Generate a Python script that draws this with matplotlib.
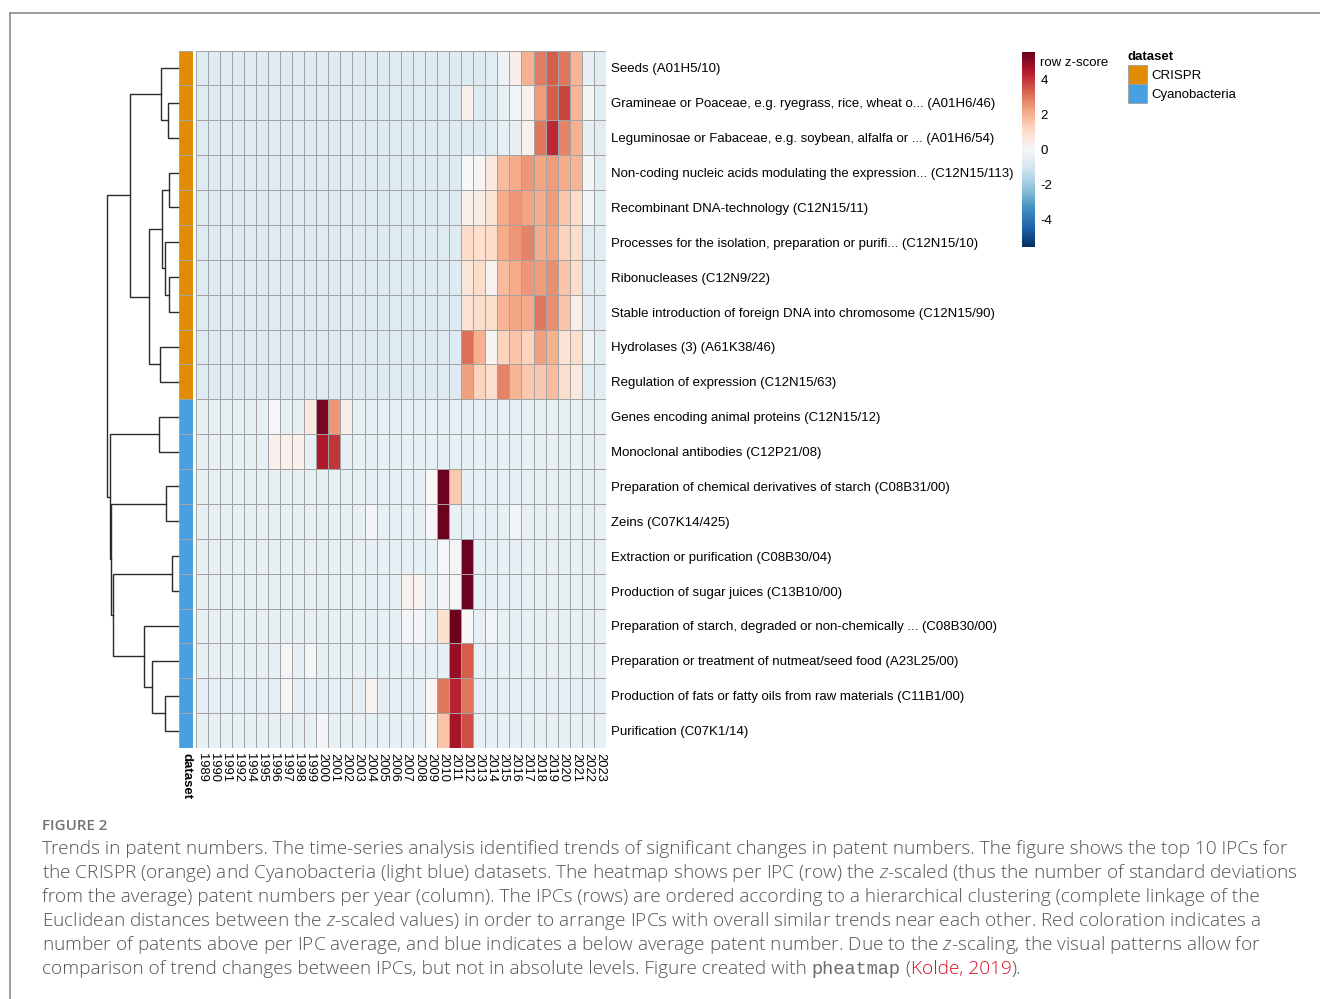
import matplotlib
matplotlib.use("Agg")
import matplotlib.pyplot as plt
import numpy as np
from matplotlib.colors import Normalize, ListedColormap
from matplotlib.lines import Line2D
from matplotlib.patches import Rectangle

plt.rcParams['font.family'] = ['Liberation Sans', 'DejaVu Sans']
plt.rcParams['mathtext.fontset'] = 'custom'
plt.rcParams['mathtext.rm'] = 'Open Sans:light'
plt.rcParams['mathtext.it'] = 'Open Sans:italic:light'

# ---------------- data ----------------
years = ["1989", "1990", "1991", "1992", "1994", "1995", "1996", "1997", "1998", "1999",
         "2000", "2001", "2002", "2003", "2004", "2005", "2006", "2007", "2008", "2009",
         "2010", "2011", "2012", "2013", "2014", "2015", "2016", "2017", "2018", "2019",
         "2020", "2021", "2022", "2023"]

row_labels = [
    "Seeds (A01H5/10)",
    "Gramineae or Poaceae, e.g. ryegrass, rice, wheat o... (A01H6/46)",
    "Leguminosae or Fabaceae, e.g. soybean, alfalfa or ... (A01H6/54)",
    "Non-coding nucleic acids modulating the expression... (C12N15/113)",
    "Recombinant DNA-technology (C12N15/11)",
    "Processes for the isolation, preparation or purifi... (C12N15/10)",
    "Ribonucleases (C12N9/22)",
    "Stable introduction of foreign DNA into chromosome (C12N15/90)",
    "Hydrolases (3) (A61K38/46)",
    "Regulation of expression (C12N15/63)",
    "Genes encoding animal proteins (C12N15/12)",
    "Monoclonal antibodies (C12P21/08)",
    "Preparation of chemical derivatives of starch (C08B31/00)",
    "Zeins (C07K14/425)",
    "Extraction or purification (C08B30/04)",
    "Production of sugar juices (C13B10/00)",
    "Preparation of starch, degraded or non-chemically ... (C08B30/00)",
    "Preparation or treatment of nutmeat/seed food (A23L25/00)",
    "Production of fats or fatty oils from raw materials (C11B1/00)",
    "Purification (C07K1/14)",
]

row_dataset = ["CRISPR", "CRISPR", "CRISPR", "CRISPR", "CRISPR",
               "CRISPR", "CRISPR", "CRISPR", "CRISPR", "CRISPR",
               "Cyanobacteria", "Cyanobacteria", "Cyanobacteria", "Cyanobacteria", "Cyanobacteria",
               "Cyanobacteria", "Cyanobacteria", "Cyanobacteria", "Cyanobacteria", "Cyanobacteria"]
dataset_names = ["CRISPR", "Cyanobacteria"]
dataset_colors = ["#E28C06", "#47A0E1"]

# row z-scores (rows in display order, columns = years)
z_crispr = [
    [-0.7, -0.7, -0.7, -0.7, -0.7, -0.7, -0.7, -0.7, -0.7, -0.7,
     -0.7, -0.7, -0.7, -0.7, -0.7, -0.7, -0.7, -0.7, -0.7, -0.7,
     -0.7, -0.7, -0.7, -0.7, -0.6, -0.3, 0.4, 2.0, 2.9, 3.4,
     3.0, 1.9, -0.4, -0.6],
    [-0.7, -0.7, -0.7, -0.7, -0.7, -0.7, -0.7, -0.7, -0.7, -0.7,
     -0.7, -0.7, -0.7, -0.7, -0.7, -0.7, -0.7, -0.7, -0.7, -0.7,
     -0.7, -0.7, 0.3, -0.7, -0.7, -0.4, -0.2, 0.3, 2.4, 3.4,
     3.8, 1.9, -0.1, -0.6],
    [-0.7, -0.7, -0.7, -0.7, -0.7, -0.7, -0.7, -0.7, -0.7, -0.7,
     -0.7, -0.7, -0.7, -0.7, -0.7, -0.7, -0.7, -0.7, -0.7, -0.7,
     -0.7, -0.7, -0.7, -0.7, -0.6, -0.5, -0.4, 0.3, 3.0, 4.2,
     2.8, 2.0, -0.4, -0.6],
    [-0.7, -0.7, -0.7, -0.7, -0.7, -0.7, -0.7, -0.7, -0.7, -0.7,
     -0.7, -0.7, -0.7, -0.7, -0.7, -0.7, -0.7, -0.7, -0.7, -0.7,
     -0.7, -0.7, 0.0, 0.1, 0.6, 1.8, 2.1, 2.5, 2.2, 2.4,
     2.1, 1.9, -0.1, -0.6],
    [-0.7, -0.7, -0.7, -0.7, -0.7, -0.7, -0.7, -0.7, -0.7, -0.7,
     -0.7, -0.7, -0.7, -0.7, -0.7, -0.7, -0.7, -0.7, -0.7, -0.7,
     -0.7, -0.7, 0.3, 0.4, 0.8, 2.1, 2.5, 2.2, 2.1, 2.4,
     1.5, 1.1, -0.2, -0.6],
    [-0.7, -0.7, -0.7, -0.7, -0.7, -0.7, -0.7, -0.7, -0.7, -0.7,
     -0.7, -0.7, -0.7, -0.7, -0.7, -0.7, -0.7, -0.7, -0.7, -0.7,
     -0.7, -0.7, 1.1, 0.9, 1.1, 2.1, 2.5, 2.8, 2.1, 2.2,
     1.3, 1.0, -0.6, -0.6],
    [-0.7, -0.7, -0.7, -0.7, -0.7, -0.7, -0.7, -0.7, -0.7, -0.7,
     -0.7, -0.7, -0.7, -0.7, -0.7, -0.7, -0.7, -0.7, -0.7, -0.7,
     -0.7, -0.7, 0.7, 1.0, 0.2, 1.8, 2.1, 2.5, 2.4, 2.6,
     1.6, 1.0, -0.6, -0.6],
    [-0.7, -0.7, -0.7, -0.7, -0.7, -0.7, -0.7, -0.7, -0.7, -0.7,
     -0.7, -0.7, -0.7, -0.7, -0.7, -0.7, -0.7, -0.7, -0.7, -0.7,
     -0.7, -0.7, 0.8, 1.0, 1.0, 1.9, 2.2, 2.1, 3.0, 2.6,
     1.6, 0.4, -0.6, -0.6],
    [-0.7, -0.7, -0.7, -0.7, -0.7, -0.7, -0.7, -0.7, -0.7, -0.7,
     -0.7, -0.7, -0.7, -0.7, -0.7, -0.7, -0.7, -0.7, -0.7, -0.7,
     -0.7, -0.7, 3.1, 2.0, 0.1, 1.3, 1.6, 1.3, 2.3, 2.0,
     0.8, 1.0, -0.3, -0.6],
    [-0.7, -0.7, -0.7, -0.7, -0.7, -0.7, -0.7, -0.7, -0.7, -0.7,
     -0.7, -0.7, -0.7, -0.7, -0.7, -0.7, -0.7, -0.7, -0.7, -0.7,
     -0.7, -0.7, 2.3, 1.3, 1.0, 2.8, 1.9, 1.5, 1.5, 1.8,
     1.0, 0.6, -0.6, -0.6],
]

z_cyano = [
    [-0.45, -0.45, -0.45, -0.45, -0.45, -0.45, -0.05, -0.45, -0.45, 0.5,
     5.3, 2.5, 0.4, -0.45, -0.45, -0.45, -0.45, -0.45, -0.45, -0.45,
     -0.45, -0.45, -0.45, -0.45, -0.45, -0.45, -0.45, -0.45, -0.45, -0.45,
     -0.45, -0.45, -0.45, -0.45],
    [-0.45, -0.45, -0.45, -0.45, -0.45, -0.45, 0.3, 0.3, 0.3, -0.45,
     4.5, 4.0, -0.45, -0.45, -0.45, -0.45, -0.45, -0.45, -0.45, -0.45,
     -0.45, -0.45, -0.45, -0.45, -0.45, -0.45, -0.45, -0.45, -0.45, -0.45,
     -0.45, -0.45, -0.45, -0.45],
    [-0.45, -0.45, -0.45, -0.45, -0.45, -0.45, -0.45, -0.45, -0.45, -0.45,
     -0.45, -0.45, -0.45, -0.45, -0.45, -0.45, -0.45, -0.45, -0.45, 0.0,
     5.5, 1.5, -0.45, -0.45, -0.45, -0.45, -0.45, -0.45, -0.45, -0.45,
     -0.45, -0.45, -0.45, -0.45],
    [-0.45, -0.45, -0.45, -0.45, -0.45, -0.45, -0.45, -0.45, -0.45, -0.45,
     -0.45, -0.45, -0.45, -0.45, -0.1, -0.45, -0.45, -0.45, -0.45, -0.05,
     5.5, -0.45, -0.45, -0.45, -0.45, -0.45, -0.15, -0.45, -0.45, -0.45,
     -0.45, -0.45, -0.45, -0.45],
    [-0.45, -0.45, -0.45, -0.45, -0.45, -0.45, -0.45, -0.45, -0.45, -0.45,
     -0.45, -0.45, -0.45, -0.45, -0.45, -0.45, -0.45, -0.45, -0.45, -0.45,
     -0.05, -0.1, 5.5, -0.45, -0.45, -0.45, -0.45, -0.45, -0.45, -0.45,
     -0.45, -0.45, -0.45, -0.45],
    [-0.45, -0.45, -0.45, -0.45, -0.45, -0.45, -0.45, -0.45, -0.45, -0.45,
     -0.45, -0.45, -0.45, -0.45, -0.45, -0.45, -0.45, 0.2, 0.2, -0.45,
     -0.1, -0.05, 5.5, -0.45, -0.45, -0.45, -0.45, -0.45, -0.45, -0.45,
     -0.45, -0.45, -0.45, -0.45],
    [-0.45, -0.45, -0.45, -0.45, -0.45, -0.45, -0.45, -0.45, -0.45, -0.45,
     -0.45, -0.45, -0.45, -0.45, -0.45, -0.45, -0.45, -0.1, -0.1, -0.45,
     0.9, 5.5, 0.0, -0.45, -0.15, -0.45, -0.45, -0.45, -0.45, -0.45,
     -0.45, -0.45, -0.45, -0.45],
    [-0.45, -0.45, -0.45, -0.45, -0.45, -0.45, -0.45, -0.1, -0.45, -0.1,
     -0.45, -0.45, -0.45, -0.45, -0.45, -0.45, -0.45, -0.45, -0.45, -0.45,
     -0.45, 4.9, 3.4, -0.45, -0.45, -0.45, -0.45, -0.45, -0.45, -0.45,
     -0.45, -0.45, -0.45, -0.45],
    [-0.55, -0.55, -0.55, -0.55, -0.55, -0.55, -0.55, -0.1, -0.55, -0.55,
     -0.55, -0.55, -0.55, -0.55, 0.2, -0.55, -0.55, -0.55, -0.55, 0.1,
     3.0, 4.3, 3.0, -0.55, -0.55, -0.55, -0.55, -0.55, -0.55, -0.55,
     -0.55, -0.55, -0.55, -0.55],
    [-0.45, -0.45, -0.45, -0.45, -0.45, -0.45, -0.45, -0.45, -0.45, -0.45,
     -0.1, -0.45, -0.45, -0.45, -0.45, -0.45, -0.45, -0.45, -0.45, 0.0,
     1.6, 4.6, 3.6, -0.45, -0.45, -0.45, -0.45, -0.45, -0.45, -0.45,
     -0.45, -0.45, -0.45, -0.45],
]

# hierarchical clustering of rows (leaf = row index, merged cluster k = 20 + k)
merge_a = [1, 0, 3, 6, 5, 22, 8, 25, 21, 10, 12, 14, 18, 17, 16, 31, 30, 29, 28]
merge_b = [2, 20, 4, 7, 23, 24, 9, 26, 27, 11, 13, 15, 19, 32, 33, 34, 35, 36, 37]
merge_h = [0.14, 0.235, 0.127, 0.127, 0.178, 0.225, 0.258, 0.41, 0.67, 0.27,
           0.175, 0.08, 0.19, 0.37, 0.475, 0.92, 0.943, 0.962, 1.0]

z_min, z_max = -5.57, 5.6
cbar_ticks = [4, 2, 0, -2, -4]

caption_lines = [
    "Trends in patent numbers. The time-series analysis identified trends of significant changes in patent numbers. The figure shows the top 10 IPCs for",
    "the CRISPR (orange) and Cyanobacteria (light blue) datasets. The heatmap shows per IPC (row) the $z$-scaled (thus the number of standard deviations",
    "from the average) patent numbers per year (column). The IPCs (rows) are ordered according to a hierarchical clustering (complete linkage of the",
    "Euclidean distances between the $z$-scaled values) in order to arrange IPCs with overall similar trends near each other. Red coloration indicates a",
    "number of patents above per IPC average, and blue indicates a below average patent number. Due to the $z$-scaling, the visual patterns allow for",
]

# ---------------- figure ----------------
W, H = 1320, 999
fig = plt.figure(figsize=(W / 100, H / 100), dpi=100)
fig.patch.set_facecolor("white")


def add_ax(x0, y0, x1, y1):
    return fig.add_axes([x0 / W, 1 - y1 / H, (x1 - x0) / W, (y1 - y0) / H])


def fx(px):
    return px / W


def fy(py):
    return 1 - py / H


GRID = "#a3a3a3"
GRID_LW = 0.65
LBL = 9.55

Z = np.array(z_crispr + z_cyano, dtype=float)
nrow, ncol = Z.shape
assert ncol == len(years)
cmap = plt.get_cmap("RdBu_r")
norm = Normalize(vmin=z_min, vmax=z_max)

# heatmap
axh = add_ax(195.5, 50.5, 606, 748)
axh.pcolormesh(np.arange(ncol + 1), np.arange(nrow + 1), Z, cmap=cmap, norm=norm,
               edgecolors=GRID, linewidth=GRID_LW)
axh.set_xlim(0, ncol)
axh.set_ylim(nrow, 0)
for s in axh.spines.values():
    s.set_visible(False)
axh.set_xticks(np.arange(ncol) + 0.5)
axh.set_xticklabels(years, rotation=270, fontsize=9.3, ha="center", va="top")
axh.set_yticks(np.arange(nrow) + 0.5)
axh.set_yticklabels(row_labels, fontsize=LBL, va="center_baseline")
axh.yaxis.tick_right()
axh.tick_params(length=0, pad=3.3)
axh.tick_params(axis="x", pad=3.5)

# annotation column
axa = add_ax(179, 50.5, 193, 748)
codes = np.array([[dataset_names.index(d)] for d in row_dataset])
axa.pcolormesh(np.arange(2), np.arange(nrow + 1), codes,
               cmap=ListedColormap(dataset_colors), vmin=0, vmax=1,
               edgecolors=GRID, linewidth=GRID_LW)
axa.set_xlim(0, 1)
axa.set_ylim(nrow, 0)
for s in axa.spines.values():
    s.set_visible(False)
axa.set_yticks([])
axa.set_xticks([0.5])
axa.set_xticklabels(["dataset"], rotation=270, fontsize=LBL, fontweight="bold",
                    ha="center", va="top")
axa.tick_params(length=0, pad=3.5)

# dendrogram
axd = add_ax(107, 50.5, 178, 748)
axd.set_xlim(1.0, 0.0)
axd.set_ylim(nrow, 0)
axd.axis("off")
pos = {i: (i + 0.5, 0.0) for i in range(nrow)}
for k, (a, b, h) in enumerate(zip(merge_a, merge_b, merge_h)):
    ya, ha_ = pos[a]
    yb, hb = pos[b]
    axd.plot([ha_, h, h, hb], [ya, ya, yb, yb], color="#2a2a2a", lw=1.0,
             clip_on=False, solid_joinstyle="miter")
    pos[nrow + k] = ((ya + yb) / 2, h)

# colour key
axc = add_ax(1022, 52, 1035, 247)
grad = np.linspace(z_min, z_max, 300).reshape(-1, 1)
axc.imshow(grad, aspect="auto", cmap=cmap, norm=norm, origin="lower",
           extent=[0, 1, z_min, z_max])
axc.set_xticks([])
axc.yaxis.tick_right()
axc.set_yticks(cbar_ticks)
axc.set_yticklabels([str(t) for t in cbar_ticks], fontsize=LBL, va="center_baseline")
axc.tick_params(length=0, pad=4)
for s in axc.spines.values():
    s.set_visible(False)
fig.text(fx(1040), fy(62), "row z-score", fontsize=LBL, va="center_baseline", ha="left")

# dataset legend
fig.text(fx(1128), fy(56), "dataset", fontsize=LBL, fontweight="bold",
         va="center_baseline", ha="left")
for i, (nm, col) in enumerate(zip(dataset_names, dataset_colors)):
    top = 65 + i * 19
    fig.add_artist(Rectangle((fx(1128), fy(top + 19)), 19 / W, 19 / H,
                             transform=fig.transFigure, facecolor=col,
                             edgecolor=GRID, linewidth=GRID_LW))
    fig.text(fx(1151), fy(top + 9.5), nm, fontsize=LBL, va="center_baseline", ha="left")

# outer frame
fig.add_artist(Line2D([fx(10), fx(1320)], [fy(13), fy(13)], transform=fig.transFigure,
                      color="#8c8c8c", lw=1.2))
fig.add_artist(Line2D([fx(10), fx(10)], [fy(13), fy(999)], transform=fig.transFigure,
                      color="#8c8c8c", lw=1.2))

# caption
CAP_FONT = "Open Sans"
CAP_COL = "#545454"
CAP_W = "light"
renderer = fig.canvas.get_renderer()

probe = fig.text(0, 0, caption_lines[0], fontsize=13, family=CAP_FONT, fontweight=CAP_W)
w0 = probe.get_window_extent(renderer).width
probe.remove()
cap_fs = 13 * (1281 - 42) / w0

fig.text(fx(42), fy(830), "FIGURE 2", fontsize=cap_fs * 0.8, family=CAP_FONT,
         fontweight="semibold", color="#737373", va="baseline", ha="left")

baselines = [854, 878, 902, 926, 950, 974]
for line, bl in zip(caption_lines, baselines):
    fig.text(fx(42), fy(bl), line, fontsize=cap_fs, family=CAP_FONT, color=CAP_COL,
             fontweight=CAP_W, va="baseline", ha="left")


def seg_width(s, **kw):
    t = fig.text(0, 0, "|" + s + "|", **kw)
    w1 = t.get_window_extent(renderer).width
    t.set_text("||")
    w2 = t.get_window_extent(renderer).width
    t.remove()
    return w1 - w2


cap_kw = dict(fontsize=cap_fs, family=CAP_FONT, color=CAP_COL, fontweight=CAP_W)
mono_kw = dict(fontsize=cap_fs * 0.98, family="Liberation Mono", color="#6a6a6a")
red_kw = dict(fontsize=cap_fs, family=CAP_FONT, color="#D2101E", fontweight=CAP_W)
segments = [
    ("comparison of trend changes between IPCs, but not in absolute levels. Figure created with ", cap_kw),
    ("pheatmap", mono_kw),
    (" (", cap_kw),
    ("Kolde, 2019", red_kw),
    (").", cap_kw),
]
x = 42.0
for s, kw in segments:
    fig.text(fx(x), fy(baselines[5]), s, va="baseline", ha="left", **kw)
    x += seg_width(s, **kw)

fig.savefig("out.png", dpi=100, facecolor="white")
